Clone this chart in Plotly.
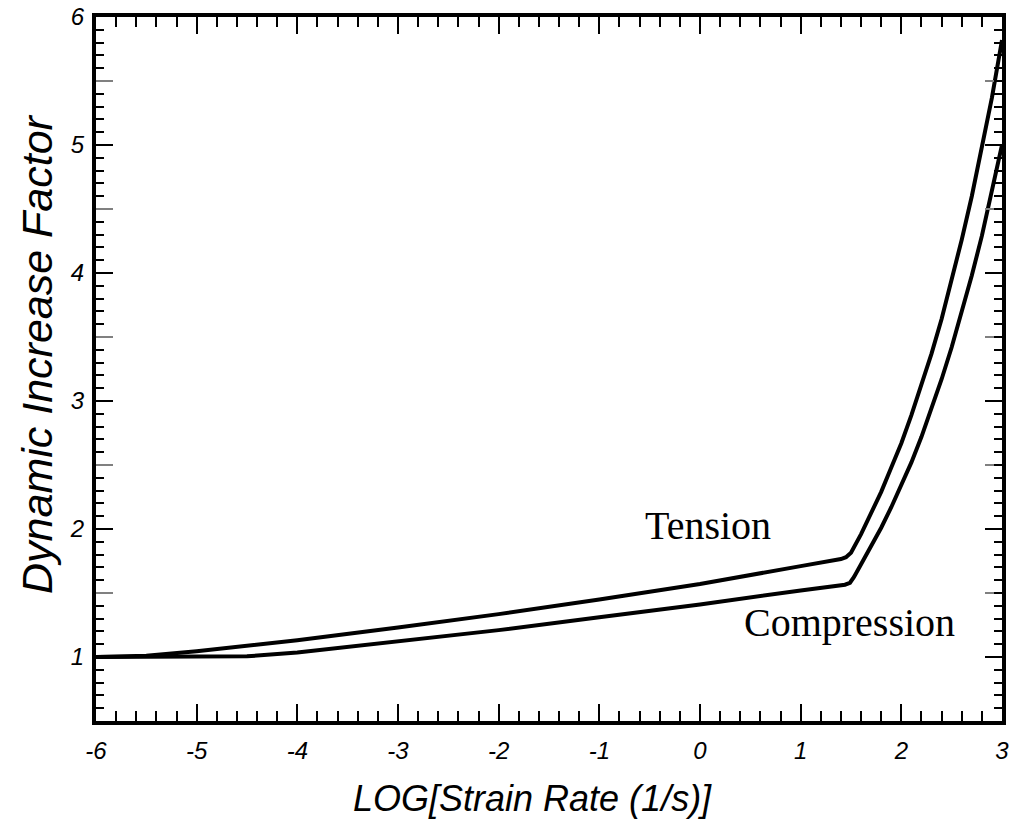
import plotly.graph_objects as go

# Tension curve
tension_x = [-6.0, -5.5, -5.0, -4.0, -3.0, -2.0, -1.0, 0.0, 1.0, 1.40, 1.45, 1.50, 1.6, 1.7, 1.8, 1.9,
             2.0, 2.1, 2.2, 2.3, 2.4, 2.5, 2.6, 2.7, 2.8, 2.9, 3.0]
tension_y = [1.0, 1.01, 1.045, 1.13, 1.23, 1.335, 1.45, 1.57, 1.71, 1.765, 1.78, 1.815, 1.96, 2.12, 2.29, 2.48,
             2.67, 2.89, 3.12, 3.37, 3.64, 3.94, 4.26, 4.60, 4.97, 5.37, 5.82]

# Compression curve
compression_x = [-6.0, -5.0, -4.5, -4.0, -3.0, -2.0, -1.0, 0.0, 1.0, 1.44, 1.49, 1.53, 1.6, 1.7, 1.8, 1.9,
                 2.0, 2.1, 2.2, 2.3, 2.4, 2.5, 2.6, 2.7, 2.8, 2.9, 3.0]
compression_y = [1.0, 1.0, 1.005, 1.035, 1.12, 1.21, 1.31, 1.41, 1.52, 1.565, 1.58, 1.625, 1.725, 1.86, 2.01, 2.17,
                 2.34, 2.52, 2.72, 2.94, 3.17, 3.42, 3.69, 3.98, 4.29, 4.63, 5.00]

x_ticks = [-6, -5, -4, -3, -2, -1, 0, 1, 2, 3]
y_ticks = [1, 2, 3, 4, 5, 6]
y_half_ticks = [1.5, 2.5, 3.5, 4.5, 5.5]

X_RANGE = [-6, 3]
Y_RANGE = [0.5, 6]

L, R, T, B = 96, 11, 17, 107
W, H = 1013, 828
PW, PH = W - L - R, H - T - B

fig = go.Figure()
fig.add_trace(go.Scatter(x=[-6], y=[1], xaxis="x", yaxis="y2", mode="markers",
                         marker=dict(opacity=0), showlegend=False, hoverinfo="skip"))
fig.add_trace(go.Scatter(x=[-6], y=[1], xaxis="x2", yaxis="y3", mode="markers",
                         marker=dict(opacity=0), showlegend=False, hoverinfo="skip"))
fig.add_trace(go.Scatter(x=tension_x, y=tension_y, mode="lines",
                         line=dict(color="black", width=4), showlegend=False, hoverinfo="skip"))
fig.add_trace(go.Scatter(x=compression_x, y=compression_y, mode="lines",
                         line=dict(color="black", width=4), showlegend=False, hoverinfo="skip"))

tickfont = dict(family="Liberation Sans", size=24, color="black", style="italic")

x_minor = dict(dtick=0.2, tick0=0, ticks="inside", ticklen=10, tickwidth=2, tickcolor="black", showgrid=False)
y_minor = dict(dtick=0.1, tick0=0, ticks="inside", ticklen=8, tickwidth=2, tickcolor="black", showgrid=False)

fig.update_layout(
    width=W, height=H,
    margin=dict(l=L, r=R, t=T, b=B, autoexpand=False),
    paper_bgcolor="white", plot_bgcolor="white",
    xaxis=dict(range=X_RANGE, tickmode="array", tickvals=x_ticks, ticktext=[str(v) for v in x_ticks],
               ticks="inside", ticklen=17, tickwidth=2, tickcolor="black",
               showgrid=False, zeroline=False, automargin=False,
               showline=True, linewidth=4, linecolor="black", mirror=True,
               tickfont=tickfont, ticklabelstandoff=5, minor=x_minor),
    xaxis2=dict(range=X_RANGE, overlaying="x", side="top", anchor="y", tickmode="array", tickvals=x_ticks,
                ticks="inside", ticklen=17, tickwidth=2, tickcolor="black", automargin=False,
                showgrid=False, zeroline=False, showticklabels=False, showline=False, minor=x_minor),
    yaxis=dict(range=Y_RANGE, tickmode="array", tickvals=y_ticks, ticktext=[str(v) for v in y_ticks],
               ticks="inside", ticklen=17, tickwidth=2, tickcolor="black",
               showgrid=False, zeroline=False, automargin=False,
               showline=True, linewidth=4, linecolor="black", mirror=True,
               tickfont=tickfont, ticklabelstandoff=3, minor=y_minor),
    yaxis2=dict(range=Y_RANGE, overlaying="y", side="left", anchor="x", tickmode="array", tickvals=y_half_ticks,
                ticks="inside", ticklen=17, tickwidth=2, tickcolor="#808080", automargin=False,
                showticklabels=False, showline=False, mirror="ticks", showgrid=False, zeroline=False),
    yaxis3=dict(range=Y_RANGE, overlaying="y", side="right", anchor="x2", tickmode="array", tickvals=y_ticks,
                ticks="inside", ticklen=17, tickwidth=2, tickcolor="black", automargin=False,
                showgrid=False, zeroline=False, showticklabels=False, showline=False, minor=y_minor),
    annotations=[
        dict(x=0.08, y=2.03, xref="x", yref="y", text="Tension", showarrow=False,
             xanchor="center", yanchor="middle",
             font=dict(family="Liberation Serif", size=40, color="black")),
        dict(x=1.49, y=1.27, xref="x", yref="y", text="Compression", showarrow=False,
             xanchor="center", yanchor="middle",
             font=dict(family="Liberation Serif", size=40, color="black")),
        dict(x=(532 - L) / PW, y=(T + PH - 798) / PH, xref="paper", yref="paper",
             xanchor="center", yanchor="middle",
             text="LOG[Strain Rate (1/s)]", showarrow=False,
             font=dict(family="Liberation Sans", size=36, color="black", style="italic")),
        dict(x=(37 - L) / PW, y=(T + PH - 354) / PH, xref="paper", yref="paper",
             xanchor="center", yanchor="middle",
             text="Dynamic Increase Factor", showarrow=False, textangle=-90,
             font=dict(family="Liberation Sans", size=43, color="black", style="italic")),
    ],
)

fig.write_html("out.html")
